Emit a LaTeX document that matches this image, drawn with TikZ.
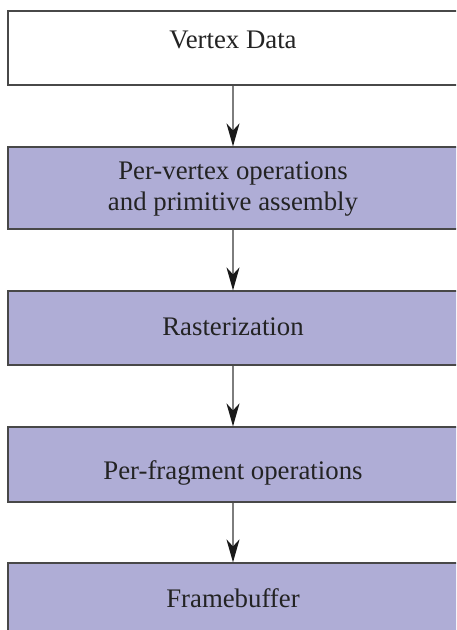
\documentclass[tikz,border=0pt]{standalone}
\usepackage{fontspec}
\setmainfont{Liberation Serif}
\usetikzlibrary{arrows.meta}
\definecolor{boxfill}{RGB}{175,173,214}
\definecolor{boxline}{RGB}{72,72,72}
\definecolor{arrline}{RGB}{125,125,125}
\definecolor{txt}{RGB}{35,35,35}
\tikzset{
  stagebox/.style={draw=boxline, line width=1.2pt, fill=boxfill, minimum width=450pt,
    inner sep=0pt},
  stagetext/.style={align=center, text=txt, inner sep=0pt,
    font=\fontsize{26.8}{30.7}\selectfont},
  flowarrow/.style={draw=arrline, line width=1.3pt,
    -{Stealth[length=23pt,width=13pt,inset=7pt,color=black!90]}}
}
\begin{document}
\begin{tikzpicture}[x=1pt,y=-1pt]
\useasboundingbox (0,0) rectangle (456,630);
\clip (0,0) rectangle (456,630);
\fill[white] (0,0) rectangle (456,630);
\node[stagebox, fill=white, minimum height=74pt] (vd) at (233,48) {};
\node[stagebox, minimum height=82pt] (pv) at (233,188) {};
\node[stagebox, minimum height=74pt] (ra) at (233,328) {};
\node[stagebox, minimum height=75pt] (pf) at (233,464.5) {};
\node[stagebox, minimum height=76pt] (fb) at (233,601) {};
\node[stagetext, anchor=base] (vdt) at (233,48.3) {Vertex Data};
\node[stagetext, anchor=base] (pvt) at (233,210) {Per-vertex operations\\and primitive assembly};
\node[stagetext, anchor=base] (rat) at (233,335) {Rasterization};
\node[stagetext, anchor=base] (pft) at (233,479) {Per-fragment operations};
\node[stagetext, anchor=base] (fbt) at (233,607) {Framebuffer};
\draw[flowarrow] (vd.south) -- (pv.north);
\draw[flowarrow] (pv.south) -- (ra.north);
\draw[flowarrow] (ra.south) -- (pf.north);
\draw[flowarrow] (pf.south) -- (fb.north);
\end{tikzpicture}
\end{document}
